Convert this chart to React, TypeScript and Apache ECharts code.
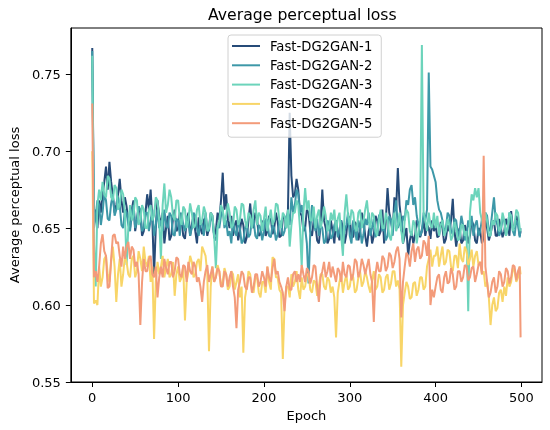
import React, { useEffect, useRef } from "react";
import * as echarts from "echarts";

// epochs 0, 2, 4, ..., 498, then 499
const epochs = [...Array.from({ length: 250 }, (_, i) => i * 2), 499];

const seriesNames = ["Fast-DG2GAN-1", "Fast-DG2GAN-2", "Fast-DG2GAN-3", "Fast-DG2GAN-4", "Fast-DG2GAN-5"];

const loss1 = [
  0.767, 0.655, 0.662, 0.650, 0.668, 0.660, 0.672, 0.680, 0.690, 0.675, 0.693, 0.680, 0.671, 0.660, 0.665, 0.672, 0.682, 0.668, 0.660, 0.670,
  0.664, 0.655, 0.650, 0.662, 0.668, 0.648, 0.655, 0.664, 0.660, 0.645, 0.648, 0.660, 0.672, 0.662, 0.675, 0.655, 0.620, 0.650, 0.668, 0.658,
  0.652, 0.660, 0.640, 0.650, 0.658, 0.642, 0.645, 0.656, 0.662, 0.648, 0.650, 0.660, 0.655, 0.645, 0.643, 0.655, 0.660, 0.645, 0.652, 0.658,
  0.648, 0.640, 0.657, 0.650, 0.646, 0.656, 0.654, 0.645, 0.650, 0.660, 0.658, 0.645, 0.648, 0.660, 0.655, 0.668, 0.686, 0.662, 0.672, 0.655,
  0.650, 0.658, 0.645, 0.652, 0.655, 0.642, 0.648, 0.656, 0.652, 0.640, 0.644, 0.655, 0.666, 0.652, 0.650, 0.660, 0.656, 0.645, 0.646, 0.654,
  0.655, 0.645, 0.648, 0.658, 0.657, 0.646, 0.650, 0.660, 0.654, 0.644, 0.645, 0.656, 0.658, 0.650, 0.662, 0.725, 0.684, 0.670, 0.672, 0.682,
  0.675, 0.660, 0.658, 0.648, 0.650, 0.662, 0.660, 0.648, 0.645, 0.655, 0.652, 0.642, 0.640, 0.652, 0.675, 0.655, 0.650, 0.640, 0.643, 0.655,
  0.648, 0.640, 0.655, 0.648, 0.642, 0.655, 0.650, 0.640, 0.646, 0.658, 0.656, 0.645, 0.644, 0.654, 0.652, 0.642, 0.648, 0.660, 0.655, 0.645,
  0.638, 0.648, 0.652, 0.640, 0.645, 0.658, 0.655, 0.645, 0.648, 0.662, 0.640, 0.655, 0.676, 0.660, 0.655, 0.648, 0.670, 0.662, 0.689, 0.665,
  0.655, 0.640, 0.645, 0.650, 0.632, 0.642, 0.648, 0.640, 0.645, 0.655, 0.652, 0.644, 0.648, 0.655, 0.645, 0.652, 0.650, 0.643, 0.655, 0.648,
  0.652, 0.644, 0.645, 0.654, 0.650, 0.640, 0.643, 0.652, 0.648, 0.655, 0.669, 0.648, 0.638, 0.646, 0.650, 0.640, 0.642, 0.652, 0.648, 0.640,
  0.645, 0.655, 0.652, 0.642, 0.640, 0.650, 0.648, 0.640, 0.644, 0.655, 0.650, 0.642, 0.646, 0.652, 0.655, 0.645, 0.645, 0.656, 0.650, 0.644,
  0.648, 0.656, 0.652, 0.645, 0.661, 0.650, 0.650, 0.658, 0.655, 0.645, 0.648,
];

const loss2 = [
  0.765, 0.650, 0.658, 0.668, 0.665, 0.652, 0.660, 0.672, 0.668, 0.656, 0.655, 0.666, 0.672, 0.658, 0.662, 0.670, 0.665, 0.652, 0.650, 0.662,
  0.660, 0.652, 0.648, 0.658, 0.665, 0.650, 0.655, 0.664, 0.662, 0.648, 0.650, 0.660, 0.660, 0.648, 0.655, 0.662, 0.645, 0.652, 0.662, 0.650,
  0.655, 0.648, 0.662, 0.652, 0.650, 0.660, 0.658, 0.646, 0.645, 0.656, 0.655, 0.645, 0.660, 0.652, 0.648, 0.658, 0.655, 0.645, 0.650, 0.660,
  0.658, 0.650, 0.645, 0.655, 0.652, 0.645, 0.660, 0.650, 0.648, 0.658, 0.655, 0.644, 0.642, 0.652, 0.650, 0.658, 0.662, 0.650, 0.655, 0.645,
  0.648, 0.640, 0.655, 0.648, 0.645, 0.654, 0.650, 0.640, 0.642, 0.650, 0.652, 0.644, 0.646, 0.656, 0.655, 0.645, 0.643, 0.652, 0.650, 0.642,
  0.648, 0.656, 0.655, 0.645, 0.644, 0.652, 0.650, 0.642, 0.646, 0.655, 0.652, 0.645, 0.648, 0.656, 0.660, 0.652, 0.670, 0.660, 0.665, 0.675,
  0.672, 0.660, 0.665, 0.652, 0.650, 0.640, 0.614, 0.648, 0.665, 0.655, 0.648, 0.656, 0.645, 0.652, 0.650, 0.640, 0.642, 0.655, 0.652, 0.643,
  0.645, 0.652, 0.655, 0.644, 0.648, 0.655, 0.640, 0.648, 0.652, 0.660, 0.645, 0.640, 0.655, 0.648, 0.642, 0.655, 0.650, 0.640, 0.646, 0.656,
  0.652, 0.660, 0.645, 0.650, 0.656, 0.644, 0.648, 0.658, 0.660, 0.648, 0.652, 0.642, 0.645, 0.658, 0.655, 0.645, 0.660, 0.668, 0.650, 0.656,
  0.648, 0.658, 0.655, 0.668, 0.665, 0.675, 0.678, 0.665, 0.670, 0.658, 0.652, 0.645, 0.648, 0.660, 0.655, 0.662, 0.751, 0.690, 0.688, 0.684,
  0.680, 0.668, 0.662, 0.660, 0.655, 0.648, 0.650, 0.660, 0.658, 0.648, 0.646, 0.656, 0.655, 0.645, 0.648, 0.658, 0.652, 0.642, 0.645, 0.655,
  0.650, 0.658, 0.645, 0.652, 0.655, 0.645, 0.648, 0.656, 0.652, 0.660, 0.658, 0.648, 0.650, 0.660, 0.670, 0.655, 0.652, 0.645, 0.648, 0.656,
  0.655, 0.645, 0.650, 0.660, 0.658, 0.648, 0.645, 0.655, 0.652, 0.644, 0.650,
];

const loss3 = [
  0.762, 0.640, 0.612, 0.665, 0.675, 0.668, 0.680, 0.672, 0.670, 0.684, 0.682, 0.670, 0.668, 0.678, 0.676, 0.662, 0.665, 0.675, 0.672, 0.660,
  0.626, 0.650, 0.665, 0.655, 0.658, 0.670, 0.668, 0.652, 0.655, 0.665, 0.662, 0.650, 0.650, 0.662, 0.665, 0.655, 0.658, 0.670, 0.668, 0.655,
  0.630, 0.665, 0.679, 0.660, 0.665, 0.675, 0.670, 0.658, 0.655, 0.668, 0.668, 0.656, 0.652, 0.664, 0.662, 0.650, 0.655, 0.666, 0.660, 0.650,
  0.652, 0.662, 0.665, 0.652, 0.655, 0.664, 0.660, 0.648, 0.650, 0.660, 0.658, 0.645, 0.624, 0.650, 0.655, 0.665, 0.662, 0.652, 0.658, 0.666,
  0.660, 0.650, 0.652, 0.664, 0.662, 0.652, 0.655, 0.666, 0.665, 0.655, 0.650, 0.660, 0.658, 0.650, 0.662, 0.668, 0.652, 0.660, 0.658, 0.648,
  0.656, 0.664, 0.648, 0.655, 0.662, 0.652, 0.655, 0.666, 0.665, 0.655, 0.650, 0.660, 0.658, 0.650, 0.662, 0.638, 0.652, 0.660, 0.660, 0.668,
  0.665, 0.650, 0.625, 0.660, 0.676, 0.662, 0.668, 0.655, 0.655, 0.664, 0.650, 0.658, 0.662, 0.650, 0.655, 0.664, 0.658, 0.648, 0.650, 0.660,
  0.655, 0.662, 0.648, 0.656, 0.660, 0.645, 0.632, 0.660, 0.672, 0.658, 0.652, 0.662, 0.660, 0.650, 0.648, 0.660, 0.662, 0.650, 0.655, 0.662,
  0.668, 0.656, 0.650, 0.660, 0.658, 0.648, 0.645, 0.655, 0.662, 0.650, 0.650, 0.660, 0.655, 0.645, 0.642, 0.655, 0.660, 0.648, 0.652, 0.660,
  0.648, 0.640, 0.655, 0.662, 0.660, 0.648, 0.645, 0.655, 0.652, 0.640, 0.648, 0.655, 0.769, 0.660, 0.655, 0.648, 0.660, 0.652, 0.650, 0.660,
  0.650, 0.658, 0.645, 0.652, 0.655, 0.645, 0.648, 0.656, 0.652, 0.642, 0.645, 0.654, 0.650, 0.642, 0.643, 0.652, 0.652, 0.645, 0.648, 0.596,
  0.660, 0.672, 0.668, 0.676, 0.670, 0.676, 0.660, 0.655, 0.650, 0.660, 0.655, 0.645, 0.645, 0.655, 0.652, 0.660, 0.658, 0.648, 0.650, 0.660,
  0.655, 0.645, 0.650, 0.660, 0.658, 0.648, 0.652, 0.662, 0.660, 0.650, 0.648,
];

const loss4 = [
  0.700, 0.601, 0.603, 0.600, 0.625, 0.612, 0.618, 0.630, 0.632, 0.620, 0.615, 0.628, 0.638, 0.625, 0.602, 0.620, 0.630, 0.612, 0.620, 0.632,
  0.628, 0.620, 0.618, 0.630, 0.632, 0.618, 0.622, 0.635, 0.630, 0.622, 0.638, 0.628, 0.625, 0.632, 0.615, 0.625, 0.578, 0.615, 0.628, 0.620,
  0.625, 0.632, 0.618, 0.625, 0.630, 0.618, 0.620, 0.628, 0.606, 0.620, 0.625, 0.615, 0.618, 0.625, 0.590, 0.615, 0.622, 0.632, 0.628, 0.618,
  0.620, 0.628, 0.630, 0.622, 0.638, 0.635, 0.632, 0.620, 0.570, 0.612, 0.625, 0.615, 0.618, 0.626, 0.622, 0.612, 0.615, 0.624, 0.620, 0.610,
  0.612, 0.622, 0.620, 0.610, 0.615, 0.620, 0.605, 0.612, 0.569, 0.605, 0.612, 0.622, 0.620, 0.610, 0.608, 0.618, 0.618, 0.608, 0.605, 0.615,
  0.615, 0.608, 0.625, 0.615, 0.610, 0.631, 0.630, 0.618, 0.618, 0.610, 0.608, 0.565, 0.600, 0.612, 0.612, 0.605, 0.620, 0.612, 0.615, 0.622,
  0.610, 0.604, 0.618, 0.610, 0.612, 0.620, 0.620, 0.610, 0.608, 0.616, 0.615, 0.606, 0.612, 0.620, 0.620, 0.612, 0.610, 0.618, 0.616, 0.608,
  0.612, 0.605, 0.579, 0.608, 0.615, 0.620, 0.608, 0.615, 0.620, 0.610, 0.612, 0.620, 0.618, 0.608, 0.610, 0.618, 0.622, 0.612, 0.615, 0.622,
  0.618, 0.612, 0.608, 0.616, 0.622, 0.610, 0.612, 0.620, 0.618, 0.608, 0.610, 0.618, 0.620, 0.610, 0.614, 0.622, 0.622, 0.612, 0.616, 0.610,
  0.560, 0.600, 0.608, 0.615, 0.612, 0.604, 0.605, 0.614, 0.615, 0.606, 0.610, 0.618, 0.618, 0.610, 0.612, 0.625, 0.630, 0.636, 0.625, 0.632,
  0.632, 0.638, 0.625, 0.632, 0.638, 0.626, 0.628, 0.636, 0.635, 0.625, 0.622, 0.632, 0.632, 0.624, 0.640, 0.630, 0.628, 0.638, 0.635, 0.626,
  0.630, 0.636, 0.625, 0.632, 0.635, 0.626, 0.628, 0.620, 0.622, 0.612, 0.615, 0.605, 0.587, 0.600, 0.605, 0.596, 0.598, 0.608, 0.610, 0.602,
  0.612, 0.606, 0.618, 0.612, 0.615, 0.624, 0.622, 0.615, 0.618, 0.625, 0.620,
];

const loss5 = [
  0.731, 0.618, 0.622, 0.615, 0.625, 0.640, 0.646, 0.635, 0.632, 0.611, 0.612, 0.630, 0.645, 0.646, 0.640, 0.641, 0.632, 0.625, 0.638, 0.630,
  0.638, 0.641, 0.630, 0.638, 0.636, 0.625, 0.628, 0.620, 0.587, 0.615, 0.630, 0.622, 0.622, 0.630, 0.632, 0.620, 0.618, 0.625, 0.605, 0.618,
  0.625, 0.618, 0.630, 0.624, 0.620, 0.628, 0.628, 0.618, 0.622, 0.631, 0.630, 0.620, 0.618, 0.626, 0.625, 0.615, 0.628, 0.622, 0.620, 0.628,
  0.625, 0.615, 0.618, 0.612, 0.602, 0.615, 0.622, 0.626, 0.615, 0.620, 0.625, 0.615, 0.618, 0.624, 0.622, 0.612, 0.612, 0.622, 0.620, 0.612,
  0.618, 0.622, 0.612, 0.605, 0.585, 0.610, 0.615, 0.622, 0.620, 0.612, 0.610, 0.618, 0.618, 0.608, 0.612, 0.620, 0.620, 0.612, 0.615, 0.622,
  0.618, 0.612, 0.625, 0.618, 0.615, 0.624, 0.630, 0.620, 0.622, 0.615, 0.612, 0.608, 0.596, 0.612, 0.618, 0.610, 0.610, 0.620, 0.622, 0.615,
  0.620, 0.615, 0.626, 0.620, 0.615, 0.624, 0.622, 0.614, 0.618, 0.626, 0.625, 0.612, 0.602, 0.618, 0.622, 0.628, 0.618, 0.622, 0.628, 0.618,
  0.625, 0.620, 0.615, 0.624, 0.622, 0.615, 0.628, 0.620, 0.618, 0.626, 0.625, 0.616, 0.620, 0.630, 0.628, 0.618, 0.622, 0.630, 0.626, 0.620,
  0.625, 0.630, 0.620, 0.615, 0.589, 0.620, 0.628, 0.622, 0.622, 0.632, 0.630, 0.622, 0.625, 0.634, 0.632, 0.624, 0.628, 0.635, 0.638, 0.630,
  0.592, 0.615, 0.625, 0.634, 0.632, 0.625, 0.635, 0.640, 0.628, 0.636, 0.638, 0.630, 0.632, 0.642, 0.640, 0.632, 0.645, 0.600, 0.610, 0.605,
  0.612, 0.618, 0.620, 0.610, 0.608, 0.618, 0.622, 0.614, 0.615, 0.624, 0.620, 0.610, 0.612, 0.622, 0.622, 0.615, 0.618, 0.626, 0.625, 0.616,
  0.618, 0.624, 0.625, 0.615, 0.620, 0.626, 0.628, 0.620, 0.697, 0.625, 0.615, 0.605, 0.608, 0.615, 0.618, 0.608, 0.612, 0.622, 0.620, 0.612,
  0.615, 0.624, 0.622, 0.614, 0.618, 0.626, 0.625, 0.616, 0.622, 0.625, 0.579,
];

const xTicks = [0, 100, 200, 300, 400, 500];
const yTicks = [0.55, 0.6, 0.65, 0.7, 0.75];

const colors = ["#264b78", "#3d98a8", "#6cd4bb", "#f8d568", "#f39b7a"];

export default function App() {
  const ref = useRef<HTMLDivElement>(null);

  useEffect(() => {
    if (!ref.current) return;
    const chart = echarts.init(ref.current, null, { renderer: "svg" });
    const font = "DejaVu Sans";
    const allLoss = [loss1, loss2, loss3, loss4, loss5];
    chart.setOption({
      animation: false,
      textStyle: { fontFamily: font },
      title: {
        text: "Average perceptual loss",
        left: 208,
        top: 6,
        padding: 0,
        textStyle: { fontFamily: font, fontSize: 15.7, fontWeight: "normal", color: "#000" },
      },
      legend: {
        data: seriesNames,
        orient: "vertical",
        left: 228,
        top: 35,
        icon: "rect",
        itemWidth: 28,
        itemHeight: 2,
        itemGap: 5.3,
        padding: [4, 9, 7, 4],
        backgroundColor: "rgba(255,255,255,0.8)",
        borderColor: "#d0d0d0",
        borderWidth: 1,
        borderRadius: 3,
        selectedMode: false,
        textStyle: { fontFamily: font, fontSize: 13.2, color: "#000", lineHeight: 14, padding: [0, 0, 0, 5] },
      },
      grid: {
        left: 66,
        right: 8,
        top: 28,
        bottom: 48,
        show: true,
        borderColor: "#000",
        borderWidth: 1,
        backgroundColor: "transparent",
      },
      xAxis: {
        type: "value",
        min: -24.95,
        max: 523.95,
        name: "Epoch",
        nameLocation: "middle",
        nameGap: 26,
        nameTextStyle: { fontFamily: font, fontSize: 13, color: "#000" },
        axisLine: { show: true, onZero: false, lineStyle: { color: "#000", width: 1 } },
        axisTick: { show: true, inside: false, length: 5, customValues: xTicks, lineStyle: { color: "#000", width: 1 } },
        axisLabel: { customValues: xTicks, margin: 9, color: "#000", fontSize: 13, fontFamily: font },
        splitLine: { show: false },
      },
      yAxis: {
        type: "value",
        min: 0.55,
        max: 0.78,
        name: "Average perceptual loss",
        nameLocation: "middle",
        nameGap: 47,
        nameTextStyle: { fontFamily: font, fontSize: 13, color: "#000" },
        axisLine: { show: true, onZero: false, lineStyle: { color: "#000", width: 1 } },
        axisTick: { show: true, inside: false, length: 5, customValues: yTicks, lineStyle: { color: "#000", width: 1 } },
        axisLabel: {
          customValues: yTicks,
          margin: 10,
          color: "#000",
          fontSize: 13,
          fontFamily: font,
          formatter: (v: number) => v.toFixed(2),
        },
        splitLine: { show: false },
      },
      series: allLoss.map((d, i) => ({
        type: "line",
        name: seriesNames[i],
        data: epochs.map((e, j) => [e, d[j]]),
        showSymbol: false,
        symbol: "none",
        silent: true,
        lineStyle: { width: 2, color: colors[i] },
        itemStyle: { color: colors[i] },
        emphasis: { disabled: true },
      })),
    });
    return () => chart.dispose();
  }, []);

  return <div ref={ref} style={{ position: "fixed", left: 0, top: 0, width: 550, height: 430 }} />;
}
